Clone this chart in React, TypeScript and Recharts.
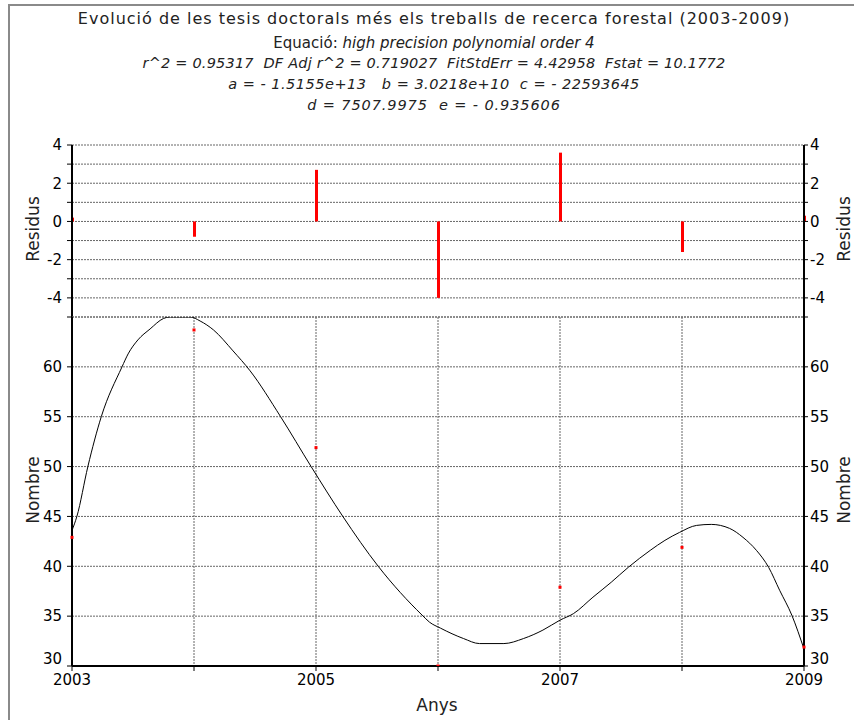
import React from 'react';
import {
  ComposedChart,
  Line,
  Bar,
  Scatter,
  XAxis,
  YAxis,
  CartesianGrid,
} from 'recharts';

// anys observats
const YEARS = [2003, 2004, 2005, 2006, 2007, 2008, 2009];
const OBSERVED = [42.9, 63.7, 51.9, 30.0, 37.9, 41.9, 31.9];
const RESIDUALS = [0.2, -0.8, 2.7, -4.0, 3.6, -1.6, 0.3];

// corba ajustada, llegida del gràfic
const FIT_X = [
  2003.0, 2003.04, 2003.13, 2003.24, 2003.41, 2003.46, 2003.54, 2003.64, 2003.75, 2003.8,
  2003.97, 2004.05, 2004.16, 2004.32, 2004.46, 2004.71, 2004.96, 2005.22, 2005.51, 2005.87,
  2005.93, 2006.02, 2006.21, 2006.34, 2006.54, 2006.7, 2006.86, 2007.0, 2007.11, 2007.27,
  2007.42, 2007.56, 2007.74, 2007.86, 2007.98, 2008.12, 2008.24, 2008.39, 2008.5, 2008.61,
  2008.71, 2008.8, 2008.9, 2009.0,
];
const FIT_Y = [
  43.6, 45.0, 50.0, 55.0, 60.0, 61.3, 62.7, 63.8, 64.85, 65.0,
  65.0, 64.6, 63.7, 61.6, 59.6, 55.0, 50.0, 45.0, 40.0, 35.1,
  34.4, 33.8, 32.75, 32.25, 32.25, 32.75, 33.6, 34.6, 35.25, 36.9,
  38.4, 39.9, 41.6, 42.6, 43.4, 44.1, 44.2, 43.8, 42.9, 41.6,
  39.9, 37.6, 35.1, 31.7,
];

const YEAR_LABELS = [2003, 2005, 2007, 2009];
const RES_TICKS = [-5, -4, -3, -2, -1, 0, 1, 2, 3, 4];
const NUM_TICKS = [30, 35, 40, 45, 50, 55, 60];

const residualData = YEARS.map((year, i) => ({ year, res: RESIDUALS[i] }));
const pointData = YEARS.map((year, i) => ({ year, value: OBSERVED[i] }));
const fitData = FIT_X.map((year, i) => ({ year, fit: FIT_Y[i] }));

const FONT = '"DejaVu Sans", sans-serif';
const tickStyle = { fontSize: 15, fill: '#000', fontFamily: FONT };
const GRID = '#666';
const DASH = '2 1';

const RedSquare = (props: any) => (
  <rect x={props.cx - 1.5} y={props.cy - 1.5} width={3} height={3} fill="#ff0000" />
);

// etiqueta de l'eix Y; el 30 puja una mica per no tocar els anys
const makeYTick = (anchor: 'start' | 'end', evenOnly: boolean) => (props: any) => {
  const v = props.payload.value as number;
  if (evenOnly && (v % 2 !== 0 || v < -4)) return <g />;
  return (
    <text
      x={props.x}
      y={props.y + (v === 30 ? -7 : 0)}
      dy="0.355em"
      textAnchor={anchor}
      fontSize={15}
      fontFamily={FONT}
      fill="#000"
    >
      {String(v)}
    </text>
  );
};

function VLabel({ text, x, y }: { text: string; x: number; y: number }) {
  return (
    <div
      style={{
        position: 'absolute',
        left: x,
        top: y,
        transform: 'translate(-50%, -50%) rotate(-90deg)',
        fontSize: 17,
        whiteSpace: 'nowrap',
        color: '#222',
      }}
    >
      {text}
    </div>
  );
}

const line = (size: number, h: number, ls: number, italic = false): React.CSSProperties => ({
  fontSize: size,
  height: h,
  letterSpacing: ls,
  fontStyle: italic ? 'italic' : 'normal',
  whiteSpace: 'pre',
});

export default function App() {
  return (
    <div
      style={{
        position: 'absolute',
        left: 0,
        top: 0,
        width: 854,
        height: 720,
        background: '#fff',
        fontFamily: FONT,
        overflow: 'hidden',
      }}
    >
      <div
        style={{
          position: 'absolute',
          left: 8,
          top: 4,
          width: 846,
          height: 716,
          borderLeft: '2px solid #8a8a8a',
          borderTop: '2px solid #8a8a8a',
        }}
      />

      <div style={{ position: 'absolute', left: 0, width: 868, top: 9, textAlign: 'center', color: '#222' }}>
        <div style={line(16, 25, 1.0)}>
          Evolució de les tesis doctorals més els treballs de recerca forestal (2003-2009)
        </div>
        <div style={line(15, 21, 0)}>
          Equació: <i>high precision polynomial order 4</i>
        </div>
        <div style={line(14.5, 21, 0.2, true)}>
          {'r^2 = 0.95317  DF Adj r^2 = 0.719027  FitStdErr = 4.42958  Fstat = 10.1772'}
        </div>
        <div style={line(14.5, 21, 0.5, true)}>
          {'a = - 1.5155e+13   b = 3.0218e+10  c = - 22593645'}
        </div>
        <div style={line(14.5, 21, 0.9, true)}>
          {'d = 7507.9975  e = - 0.935606'}
        </div>
      </div>

      {/* residus */}
      <div style={{ position: 'absolute', left: 0, top: 0 }}>
        <ComposedChart
          width={854}
          height={720}
          data={residualData}
          margin={{ top: 145, right: 5, bottom: 403, left: 12 }}
        >
          <CartesianGrid yAxisId="left" stroke={GRID} strokeDasharray={DASH} />
          <XAxis
            dataKey="year"
            type="number"
            domain={[2003, 2009]}
            ticks={YEARS}
            interval={0}
            orientation="top"
            height={0}
            tick={false}
            tickLine={false}
            axisLine={{ stroke: '#000', strokeWidth: 2 }}
          />
          <YAxis
            yAxisId="left"
            type="number"
            domain={[-5, 4]}
            ticks={RES_TICKS}
            interval={0}
            width={60}
            tickSize={5}
            tickMargin={5}
            tick={makeYTick('end', true)}
            axisLine={{ stroke: '#000', strokeWidth: 2 }}
            tickLine={{ stroke: '#000' }}
            allowDataOverflow
          />
          <YAxis
            yAxisId="right"
            orientation="right"
            type="number"
            domain={[-5, 4]}
            ticks={RES_TICKS}
            interval={0}
            width={45}
            tickSize={4}
            tickMargin={2}
            tick={makeYTick('start', true)}
            axisLine={{ stroke: '#000', strokeWidth: 2 }}
            tickLine={{ stroke: '#000' }}
            allowDataOverflow
          />
          <Bar yAxisId="left" dataKey="res" fill="#ff0000" barSize={3} isAnimationActive={false} />
        </ComposedChart>
      </div>

      {/* nombre */}
      <div style={{ position: 'absolute', left: 0, top: 0 }}>
        <ComposedChart width={854} height={720} margin={{ top: 317, right: 5, bottom: 24, left: 12 }}>
          <CartesianGrid yAxisId="left" stroke={GRID} strokeDasharray={DASH} />
          <XAxis
            dataKey="year"
            type="number"
            domain={[2003, 2009]}
            ticks={YEARS}
            interval={0}
            height={30}
            tickSize={5}
            tickMargin={3}
            tick={tickStyle}
            tickFormatter={(v: number) => (YEAR_LABELS.includes(v) ? String(v) : '')}
            axisLine={{ stroke: '#000', strokeWidth: 2 }}
            tickLine={{ stroke: '#000' }}
          />
          <YAxis
            yAxisId="left"
            type="number"
            domain={[30, 65]}
            ticks={NUM_TICKS}
            interval={0}
            width={60}
            tickSize={5}
            tickMargin={5}
            tick={makeYTick('end', false)}
            axisLine={{ stroke: '#000', strokeWidth: 2 }}
            tickLine={{ stroke: '#000' }}
            allowDataOverflow
          />
          <YAxis
            yAxisId="right"
            orientation="right"
            type="number"
            domain={[30, 65]}
            ticks={NUM_TICKS}
            interval={0}
            width={45}
            tickSize={4}
            tickMargin={2}
            tick={makeYTick('start', false)}
            axisLine={{ stroke: '#000', strokeWidth: 2 }}
            tickLine={{ stroke: '#000' }}
            allowDataOverflow
          />
          <Line
            yAxisId="left"
            data={fitData}
            dataKey="fit"
            type="monotone"
            stroke="#000"
            strokeWidth={1}
            dot={false}
            isAnimationActive={false}
          />
          <Scatter
            yAxisId="left"
            data={pointData}
            dataKey="value"
            shape={RedSquare}
            isAnimationActive={false}
          />
        </ComposedChart>
      </div>

      <VLabel text="Residus" x={33} y={229} />
      <VLabel text="Residus" x={844} y={229} />
      <VLabel text="Nombre" x={33} y={490} />
      <VLabel text="Nombre" x={844} y={490} />
      <div
        style={{
          position: 'absolute',
          left: 437,
          top: 705,
          transform: 'translate(-50%, -50%)',
          fontSize: 17,
          color: '#222',
        }}
      >
        Anys
      </div>
    </div>
  );
}
